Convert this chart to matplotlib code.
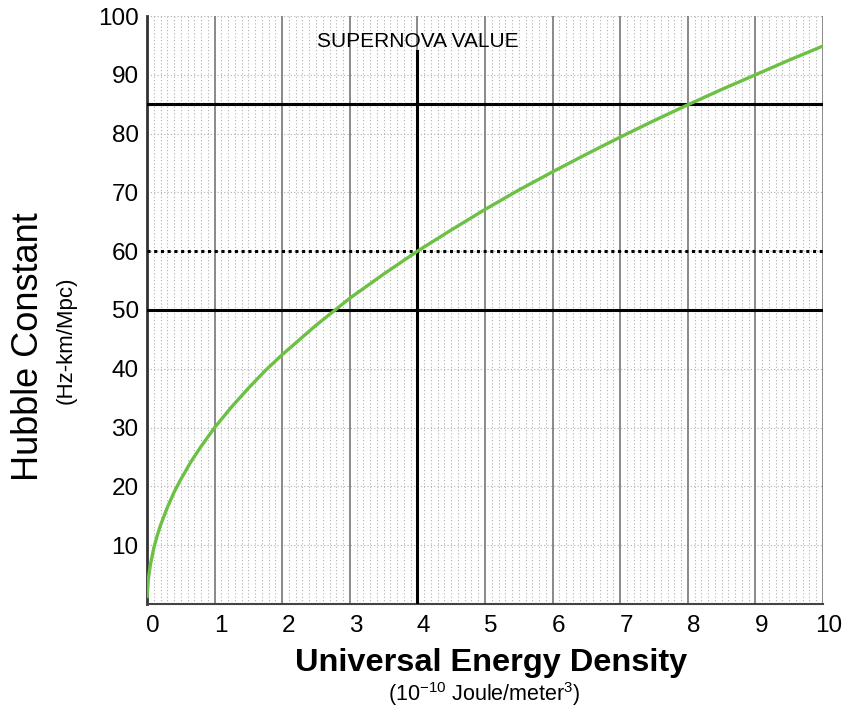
import matplotlib.pyplot as plt
import matplotlib.transforms as mtransforms

# --- valeurs ---
energy = [0.0, 0.02, 0.05, 0.1, 0.15, 0.2, 0.3, 0.4, 0.5, 0.65, 0.8, 1.0, 1.25, 1.5,
          1.75, 2.0, 2.5, 3.0, 3.5, 4.0, 4.5, 5.0, 5.5, 6.0, 6.5, 7.0, 7.5, 8.0,
          8.5, 9.0, 9.5, 10.0]
hubble = [1.0, 4.3, 6.7, 9.5, 11.6, 13.4, 16.4, 19.0, 21.2, 24.2, 26.8, 30.0, 33.5, 36.7,
          39.7, 42.4, 47.4, 52.0, 56.1, 60.0, 63.6, 67.1, 70.4, 73.5, 76.5, 79.4, 82.2, 84.9,
          87.5, 90.0, 92.5, 94.9]

x_ticks = list(range(0, 11))
y_ticks = list(range(10, 101, 10))

supernova_x = 4
supernova_top = 94
h_solid = [50, 85]
h_dotted = [60]

plt.rcParams['font.family'] = ['Liberation Sans', 'DejaVu Sans']
plt.rcParams['mathtext.fontset'] = 'custom'
plt.rcParams['mathtext.rm'] = 'Liberation Sans'

fig = plt.figure(figsize=(8.42, 7.08), dpi=100)
ax = fig.add_axes([0.1746, 0.1469, 0.8028, 0.8305])

ax.set_xlim(0, 10)
ax.set_ylim(0, 100)

# grille fine verticale (0.1) et grille horizontale tous les 10
for i in range(1, 100):
    if i % 10:
        ax.axvline(i / 10, color='#b0b0b0', lw=0.8, ls=(0, (1, 2)), zorder=1)
for v in y_ticks:
    ax.axhline(v, color='#b0b0b0', lw=0.8, ls=(0, (1, 2)), zorder=1)
for v in x_ticks[1:]:
    ax.axvline(v, color='#808080', lw=1.3, zorder=2)

# lignes de référence
for v in h_solid:
    ax.axhline(v, color='black', lw=2.2, zorder=3)
ax.axhline(85, color='black', lw=2.2, ls=(0, (1, 1)), zorder=3)
for v in h_dotted:
    ax.axhline(v, color='black', lw=2.2, ls=(0, (1, 1.2)), zorder=3)
ax.plot([supernova_x, supernova_x], [0, supernova_top], color='black', lw=2.2, zorder=3)
ax.text(4.0, 95.6, 'SUPERNOVA VALUE', ha='center', va='center', fontsize=15)

ax.plot(energy, hubble, color='#6cc043', lw=2.4, zorder=4, solid_capstyle='butt')

ax.set_xticks(x_ticks)
ax.set_yticks(y_ticks)
ax.tick_params(length=0, labelsize=17.5, pad=8)
ax.tick_params(axis='y', pad=6)
offset = mtransforms.ScaledTranslation(6 / 100, 0, fig.dpi_scale_trans)
for lab in ax.get_xticklabels():
    lab.set_transform(lab.get_transform() + offset)

for side in ['top', 'right']:
    ax.spines[side].set_visible(False)
ax.spines['left'].set_color('#333333')
ax.spines['left'].set_linewidth(2)
ax.spines['bottom'].set_color('#444444')
ax.spines['bottom'].set_linewidth(1.5)

fig.text(0.583, 0.064, 'Universal Energy Density', ha='center', va='center',
         fontsize=23.4, fontweight='bold')
fig.text(0.575, 0.019, r'(10$^{\mathrm{-10}}$ Joule/meter$^{\mathrm{3}}$)', ha='center',
         va='center', fontsize=15.5)
fig.text(0.034, 0.51, 'Hubble Constant', rotation=90, ha='center', va='center', fontsize=26)
fig.text(0.079, 0.52, '(Hz-km/Mpc)', rotation=90, ha='center', va='center', fontsize=16)

fig.savefig('out.png', dpi=100)
